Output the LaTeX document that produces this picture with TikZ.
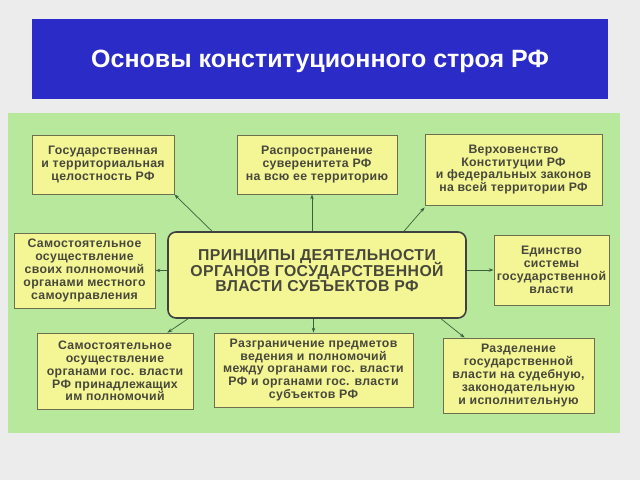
\documentclass[tikz,border=0pt]{standalone}
\usepackage{fontspec}
\setmainfont{Liberation Sans}
\newfontfamily\boxfont[LetterSpace=2.5]{Liberation Sans}
\usetikzlibrary{arrows.meta}
\lineskiplimit=-20pt
\definecolor{titleblue}{RGB}{43,43,200}
\definecolor{panelgreen}{RGB}{184,232,156}
\definecolor{boxyellow}{RGB}{244,246,150}
\definecolor{boxline}{RGB}{110,110,80}
\definecolor{textgray}{RGB}{72,72,58}
\definecolor{arrowgreen}{RGB}{60,95,60}
\definecolor{pagegray}{RGB}{236,236,236}
\tikzset{
  principle/.style={draw=boxline,fill=boxyellow,line width=0.8pt,inner sep=0pt,
    align=center,text=textgray,
    font=\boxfont\fontsize{12.3}{12.8}\selectfont\bfseries},
  link/.style={draw=arrowgreen,line width=0.7pt,-{Stealth[length=5pt,width=3.5pt]}}
}
\begin{document}
\begin{tikzpicture}[x=1pt,y=1pt]
      \fill[pagegray] (0,0) rectangle (640,480);
      \fill[titleblue] (32,381) rectangle (608,461);
      \node[text=white,font=\fontsize{25}{28}\selectfont\bfseries] (title) at (320,419) {Основы конституционного строя РФ};
      \fill[panelgreen] (8,47) rectangle (620,367);
      % центральный блок
      \node[draw=black!75,line width=1.6pt,rounded corners=8pt,fill=boxyellow,inner sep=0pt,
        minimum width=298,minimum height=86,align=center,text=textgray,
        font=\boxfont\fontsize{15.8}{15.5}\selectfont\bfseries] (c) at (317,205)
        {ПРИНЦИПЫ ДЕЯТЕЛЬНОСТИ\\ОРГАНОВ ГОСУДАРСТВЕННОЙ\\ВЛАСТИ СУБЪЕКТОВ РФ\\[-7pt]\mbox{}};
      \node[principle,minimum width=142,minimum height=59] (b1) at (103,315.5)
        {Государственная\\и территориальная\\целостность РФ};
      \node[principle,minimum width=160,minimum height=59] (b2) at (317,315.5)
        {Распространение\\суверенитета РФ\\на всю ее территорию};
      \node[principle,minimum width=177,minimum height=71] (b3) at (513.5,310.5)
        {Верховенство\\Конституции РФ\\и федеральных законов\\на всей территории РФ};
      \node[principle,minimum width=141,minimum height=75] (b4) at (84.5,209.5)
        {Самостоятельное\\осуществление\\своих полномочий\\органами местного\\самоуправления};
      \node[principle,minimum width=115,minimum height=70] (b5) at (551.5,210)
        {Единство\\системы\\государственной\\власти};
      \node[principle,minimum width=156,minimum height=76] (b6) at (115,109)
        {Самостоятельное\\осуществление\\органами гос. власти\\РФ принадлежащих\\им полномочий};
      \node[principle,minimum width=199,minimum height=74] (b7) at (313.5,110)
        {Разграничение предметов\\ведения и полномочий\\между органами гос. власти\\РФ и органами гос. власти\\субъектов РФ};
      \node[principle,minimum width=151,minimum height=75] (b8) at (518.5,104.5)
        {Разделение\\государственной\\власти на судебную,\\законодательную\\и исполнительную};
      \draw[link] ([xshift=-105pt]c.north) -- (b1.south east);
      \draw[link] ([xshift=-5pt]c.north) -- ([xshift=-5pt]b2.south);
      \draw[link] ([xshift=87pt]c.north) -- ([yshift=-2pt]b3.south west);
      \draw[link] (c.west |- b4.east) -- (b4.east);
      \draw[link] (c.east |- b5.west) -- (b5.west);
      \draw[link] ([xshift=-129pt]c.south) -- ([xshift=-26pt]b6.north east);
      \draw[link] (c.south -| b7.north) -- (b7.north);
      \draw[link] ([xshift=124pt]c.south) -- ([xshift=22pt]b8.north west);
    \end{tikzpicture}
\end{document}
